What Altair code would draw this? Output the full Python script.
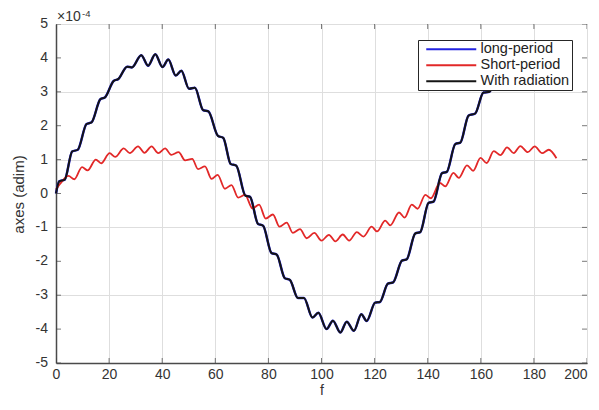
import altair as alt
import pandas as pd

# ---- data (y in units of 1e-4) ----
series_names = ["long-period", "Short-period", "With radiation"]
series_colors = ["#2323e0", "#e22828", "#141414"]

x_rad = [0.0, 1.2, 3.3, 6.1, 8.2, 11.5, 13.4, 16.7, 18.5, 21.7, 23.5, 26.8, 28.6,
         32.1, 34.7, 37.4, 40.1, 42.3, 45.1, 47.2, 50.1, 52.3, 55.4, 57.4, 61.0,
         63.0, 65.8, 67.9, 71.3, 73.1, 76.1, 78.0, 81.2, 83.1, 86.2, 88.1, 91.1,
         93.4, 96.6, 98.8, 101.9, 104.3, 107.1, 109.5, 112.2, 115.0, 117.0, 120.2,
         122.0, 125.0, 127.0, 130.3, 132.1, 135.3, 137.2, 140.3, 142.2, 145.4,
         147.2, 150.4, 152.3, 155.4, 157.9, 161.0, 163.3, 166.4, 168.4, 171.4,
         173.6, 176.6, 179.1, 181.7, 184.3, 186.7, 189.0]
y_with_radiation = [0.0, 0.36, 0.41, 1.24, 1.29, 2.05, 2.10, 2.78, 2.84, 3.32, 3.38,
                    3.74, 3.72, 4.08, 3.77, 4.11, 3.73, 3.95, 3.48, 3.62, 3.09, 3.12,
                    2.46, 2.42, 1.70, 1.64, 0.87, 0.82, -0.06, -0.10, -0.90, -0.95,
                    -1.76, -1.80, -2.50, -2.55, -3.08, -3.08, -3.66, -3.52, -4.00,
                    -3.75, -4.10, -3.78, -4.05, -3.56, -3.76, -3.22, -3.20, -2.66,
                    -2.62, -1.98, -1.94, -1.18, -1.14, -0.28, -0.24, 0.60, 0.64,
                    1.46, 1.50, 2.30, 2.36, 2.98, 3.00, 3.55, 3.52, 3.95, 3.82, 4.10,
                    3.80, 4.10, 3.78, 3.95, 3.55]
# the long-period curve lies under the black one in the picture
y_long_period = [0.0, 0.36, 0.41, 1.24, 1.29, 2.05, 2.10, 2.78, 2.84, 3.32, 3.38,
                 3.74, 3.72, 4.08, 3.77, 4.11, 3.73, 3.95, 3.48, 3.62, 3.09, 3.12,
                 2.46, 2.42, 1.70, 1.64, 0.87, 0.82, -0.06, -0.10, -0.90, -0.95,
                 -1.76, -1.80, -2.50, -2.55, -3.08, -3.08, -3.66, -3.52, -4.00,
                 -3.75, -4.10, -3.78, -4.05, -3.56, -3.76, -3.22, -3.20, -2.66,
                 -2.62, -1.98, -1.94, -1.18, -1.14, -0.28, -0.24, 0.60, 0.64,
                 1.46, 1.50, 2.30, 2.36, 2.98, 3.00, 3.55, 3.52, 3.95, 3.82, 4.10,
                 3.80, 4.10, 3.78, 3.95, 3.55]

x_short = [0.0, 1.5, 4.7, 6.9, 9.8, 11.9, 15.0, 17.0, 20.2, 22.3, 25.5, 27.8, 30.9,
           33.3, 36.0, 38.5, 41.1, 43.4, 46.2, 48.6, 51.3, 53.5, 56.1, 58.6, 60.9,
           63.6, 66.1, 68.6, 71.2, 74.0, 76.5, 79.0, 81.7, 84.2, 86.9, 89.2, 91.9,
           94.4, 97.3, 100.0, 102.8, 105.2, 108.0, 110.4, 113.3, 115.8, 118.9,
           120.9, 124.0, 125.9, 129.2, 131.3, 134.0, 136.2, 139.1, 141.2, 144.6,
           146.6, 149.7, 151.7, 154.8, 157.1, 159.9, 162.2, 164.9, 167.4, 169.9,
           172.4, 174.9, 177.7, 180.3, 183.1, 185.6, 188.5]
y_short_period = [0.12, 0.28, 0.52, 0.42, 0.78, 0.68, 1.00, 0.89, 1.19, 1.08, 1.33,
                  1.19, 1.39, 1.20, 1.39, 1.19, 1.33, 1.14, 1.22, 0.98, 1.02, 0.72,
                  0.80, 0.43, 0.55, 0.14, 0.25, -0.12, -0.04, -0.44, -0.33, -0.74,
                  -0.62, -0.98, -0.86, -1.16, -1.05, -1.32, -1.16, -1.39, -1.22,
                  -1.41, -1.21, -1.39, -1.14, -1.27, -0.98, -1.12, -0.80, -0.94,
                  -0.56, -0.71, -0.33, -0.45, -0.04, -0.14, 0.31, 0.21, 0.61, 0.46,
                  0.83, 0.67, 1.05, 0.90, 1.25, 1.13, 1.36, 1.19, 1.40, 1.22, 1.39,
                  1.19, 1.29, 1.04]

x_tick_values = [0, 20, 40, 60, 80, 100, 120, 140, 160, 180, 200]
y_tick_values = [-5, -4, -3, -2, -1, 0, 1, 2, 3, 4, 5]
y_tick_labels = ["-5", "-4", "-3", "-2", "-1", "0", "1", "2", "3", "4", "5"]
exponent_text = ["×10", "-4"]

# ---- tables ----
df_long = pd.DataFrame({"f": x_rad, "v": y_long_period, "s": series_names[0]})
df_short = pd.DataFrame({"f": x_short, "v": y_short_period, "s": series_names[1]})
df_rad = pd.DataFrame({"f": x_rad, "v": y_with_radiation, "s": series_names[2]})
df_xt = pd.DataFrame({"t": x_tick_values})
df_yt = pd.DataFrame({"t": y_tick_values, "lab": y_tick_labels})

FONT = "Liberation Sans"
TXT = "#333333"

xscale = alt.Scale(domain=[0, 200], nice=False, zero=False)
yscale = alt.Scale(domain=[-5, 5], nice=False, zero=False)
cscale = alt.Scale(domain=series_names, range=series_colors)

x_axis = alt.Axis(values=x_tick_values, title="f", grid=True, ticks=False,
                  labelPadding=4, labelFlush=False, labelOverlap=False,
                  labelAlign={"condition": {"test": "datum.value >= 200",
                                            "value": "right"},
                              "value": "center"},
                  titleY=31, titleBaseline="alphabetic", titleFontSize=14)
y_axis = alt.Axis(values=y_tick_values, title="axes (adim)", grid=True, ticks=False,
                  labels=False,
                  titleX=-38, titleY=170, titleAngle=270, titleBaseline="middle",
                  titleAlign="center", titleFontSize=15)

legend = alt.Legend(title=None, orient="none", legendX=362, legendY=16,
                    fillColor="white", strokeColor="#262626", padding=2,
                    symbolType="M-1,0H9", symbolSize=100, symbolStrokeWidth=2,
                    symbolOffset=4, labelOffset=42, rowPadding=1,
                    labelExpr="datum.label + '      '",
                    labelFontSize=14.5, labelFont=FONT, labelColor="#222222")


def line_layer(df, width):
    return alt.Chart(df).mark_line(interpolate="monotone", strokeWidth=width).encode(
        x=alt.X("f:Q", scale=xscale, axis=x_axis),
        y=alt.Y("v:Q", scale=yscale, axis=y_axis),
        color=alt.Color("s:N", scale=cscale, legend=legend),
        order=alt.Order("f:Q"),
    )


long_line = line_layer(df_long, 2.5)
short_line = line_layer(df_short, 1.8)
rad_line = line_layer(df_rad, 2.0)

tick_style = dict(color="#404040", thickness=1, size=10, clip=True)
top_ticks = alt.Chart(df_xt).mark_tick(orient="vertical", **tick_style).encode(
    x=alt.X("t:Q", scale=xscale, axis=x_axis), y=alt.datum(5))
bottom_ticks = alt.Chart(df_xt).mark_tick(orient="vertical", **tick_style).encode(
    x=alt.X("t:Q", scale=xscale, axis=x_axis), y=alt.datum(-5))
left_ticks = alt.Chart(df_yt).mark_tick(orient="horizontal", **tick_style).encode(
    y=alt.Y("t:Q", scale=yscale, axis=y_axis), x=alt.datum(0))
right_ticks = alt.Chart(df_yt).mark_tick(orient="horizontal", **tick_style).encode(
    y=alt.Y("t:Q", scale=yscale, axis=y_axis), x=alt.datum(200))

# y tick labels (every integer, as in the reference)
y_labels = alt.Chart(df_yt).mark_text(
    align="right", baseline="middle", dx=-8, fontSize=14, font=FONT, color=TXT
).encode(y=alt.Y("t:Q", scale=yscale, axis=y_axis), x=alt.datum(0), text="lab:N")

# exponent marker above the top-left corner of the axes
exp_base = alt.Chart(pd.DataFrame({"t": [exponent_text[0]]})).mark_text(
    align="left", baseline="alphabetic", fontSize=14, font=FONT, color=TXT,
    dx=1, dy=-3).encode(x=alt.datum(0), y=alt.datum(5), text="t:N")
exp_pow = alt.Chart(pd.DataFrame({"t": [exponent_text[1]]})).mark_text(
    align="left", baseline="alphabetic", fontSize=9.5, font=FONT, color=TXT,
    dx=26, dy=-7).encode(x=alt.datum(0), y=alt.datum(5), text="t:N")

chart = alt.layer(
    long_line, short_line, rad_line,
    top_ticks, bottom_ticks, left_ticks, right_ticks,
    y_labels, exp_base, exp_pow,
).properties(
    width=531, height=339,
    padding={"left": 48, "top": 16, "right": 4, "bottom": 34},
    autosize=alt.AutoSizeParams(type="none"),
).configure_view(
    stroke="#8a8a8a", strokeWidth=1
).configure_axis(
    labelFont=FONT, titleFont=FONT, labelFontSize=14, labelColor=TXT,
    titleColor=TXT, titleFontWeight="normal", gridColor="#dedede", gridWidth=1,
    domainColor="#4a4a4a", domainWidth=1.5,
)

chart.save("out.html", embed_options={"renderer": "svg", "actions": False})
